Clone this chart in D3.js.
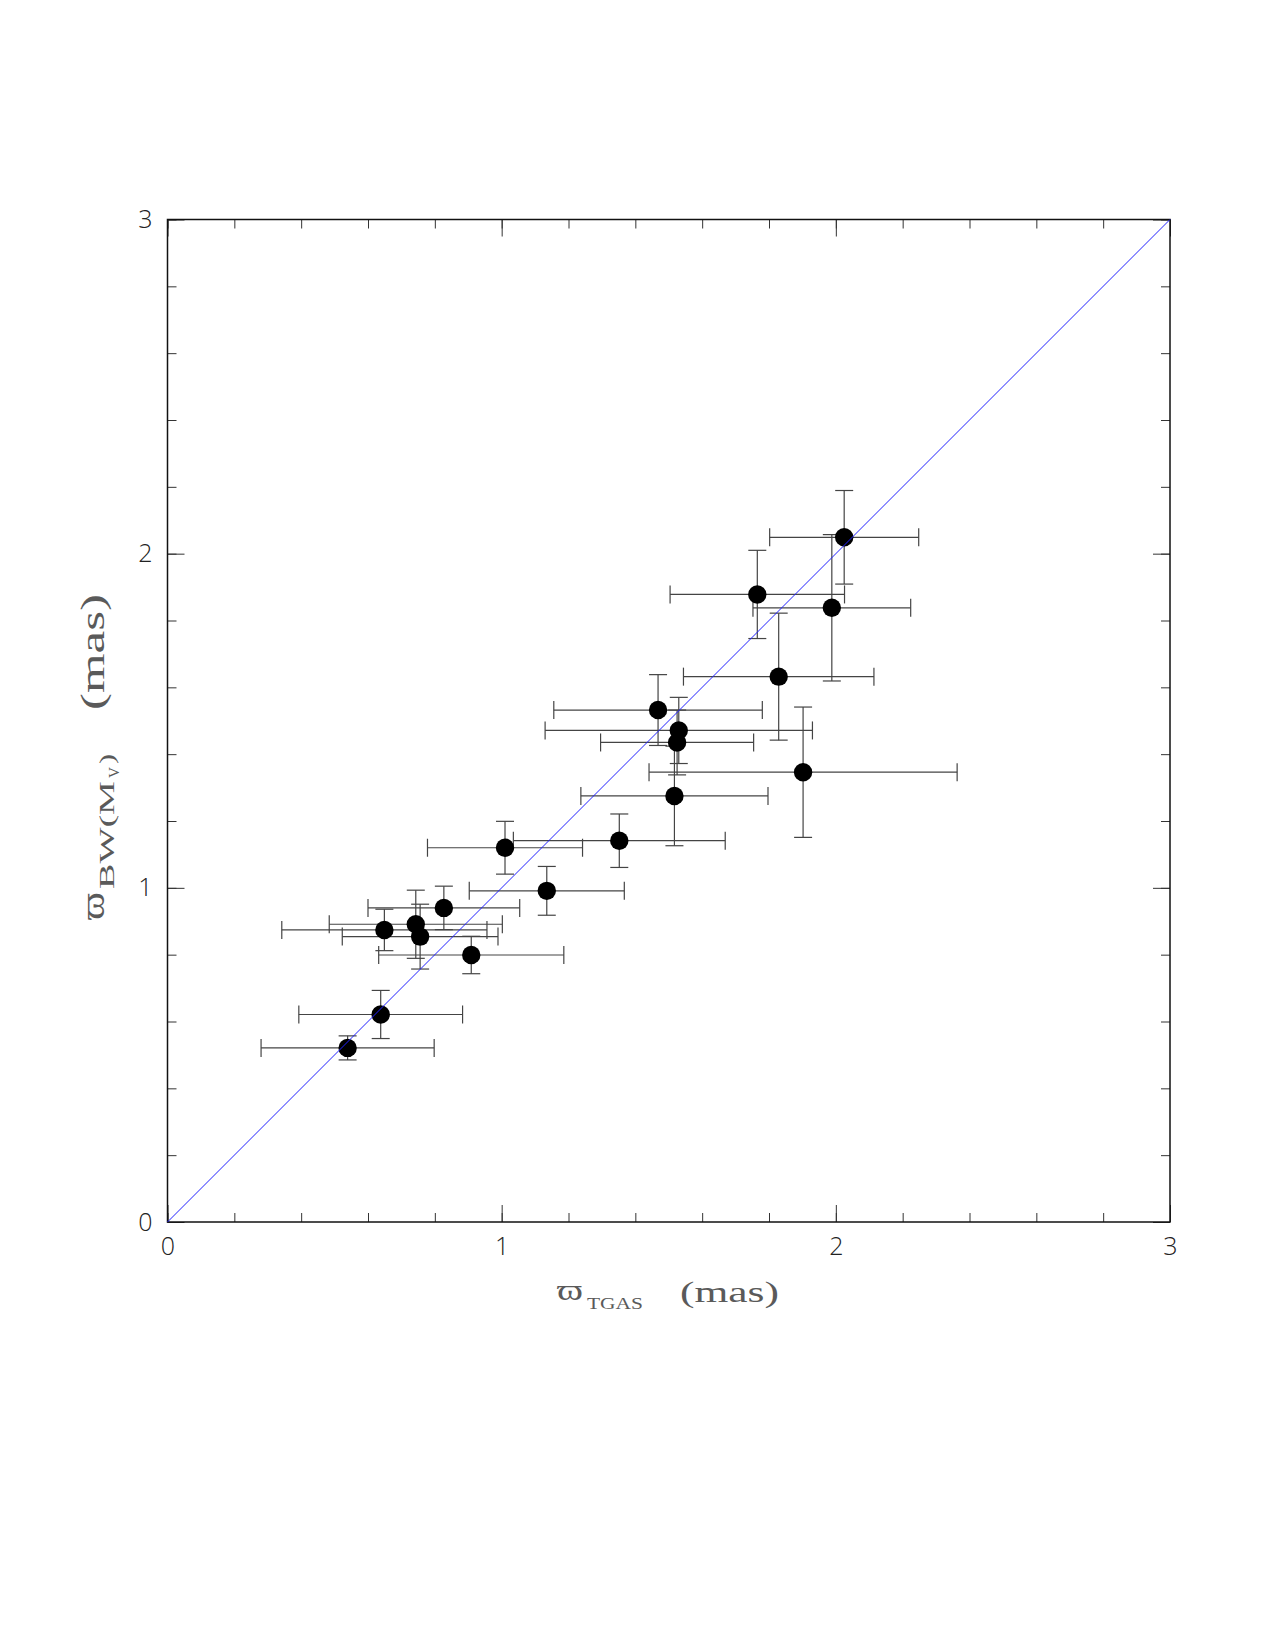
<!DOCTYPE html>
<html>
<head>
<meta charset="utf-8">
<script src="https://cdn.jsdelivr.net/npm/d3@7"></script>
<style>
  body { margin: 0; background: #fff; }
  .ticklab text { font-family: "Open Sans", "DejaVu Sans", sans-serif; font-weight: 300; font-size: 25px; fill: #222; }
  .lab { font-family: "Liberation Serif", "DejaVu Serif", serif; fill: #5a5a5a; }
</style>
</head>
<body>
<svg id="chart" width="1275" height="1650"></svg>
<script>
// parallaxes (mas)
const plxTGAS    = [0.539, 0.638, 0.649, 0.743, 0.756, 0.827, 0.909, 1.010, 1.135, 1.352,
                    1.468, 1.530, 1.525, 1.517, 1.765, 1.829, 1.902, 1.988, 2.025];
const plxTGASErr = [0.259, 0.245, 0.307, 0.259, 0.233, 0.227, 0.277, 0.232, 0.232, 0.317,
                    0.312, 0.400, 0.229, 0.280, 0.261, 0.285, 0.461, 0.236, 0.223];
const plxBW      = [0.521, 0.621, 0.874, 0.891, 0.854, 0.940, 0.799, 1.120, 0.991, 1.141,
                    1.532, 1.471, 1.435, 1.275, 1.878, 1.632, 1.346, 1.838, 2.049];
const plxBWErr   = [0.036, 0.072, 0.062, 0.102, 0.097, 0.065, 0.056, 0.079, 0.073, 0.080,
                    0.106, 0.099, 0.097, 0.149, 0.132, 0.190, 0.195, 0.219, 0.140];
const majorTicks = [0, 1, 2, 3];
const minorTicks = d3.range(0, 3.001, 0.2);
const oneToOne = [[0, 0], [3, 3]];

const svg = d3.select("#chart");
svg.append("rect").attr("width", 1275).attr("height", 1650).attr("fill", "#fff");

const x = d3.scaleLinear().domain([0, 3]).range([167.5, 1170]);
const y = d3.scaleLinear().domain([0, 3]).range([1222, 219.5]);

const pts = plxTGAS.map((v, i) => ({x: v, xe: plxTGASErr[i], y: plxBW[i], ye: plxBWErr[i]}));

// ticks, all pointing inward
function ticks(axisFn, scale, tr, vals, len, labels) {
  const a = axisFn(scale).tickValues(vals).tickSize(-len).tickPadding(labels ? 15 : 0);
  a.tickFormat(labels ? d3.format("d") : "");
  const g = svg.append("g").attr("class", "ticklab").attr("transform", tr).call(a);
  g.select(".domain").remove();
  g.selectAll("line").attr("stroke", "#333").attr("stroke-width", 1);
  return g;
}
ticks(d3.axisBottom, x, "translate(0,1222)", minorTicks, 9, false);
ticks(d3.axisTop, x, "translate(0,219.5)", minorTicks, 9, false);
ticks(d3.axisLeft, y, "translate(167.5,0)", minorTicks, 9, false);
ticks(d3.axisRight, y, "translate(1170,0)", minorTicks, 9, false);
ticks(d3.axisBottom, x, "translate(0,1222)", majorTicks, 17, true);
ticks(d3.axisTop, x, "translate(0,219.5)", majorTicks, 17, false);
ticks(d3.axisLeft, y, "translate(167.5,0)", majorTicks, 17, true);
ticks(d3.axisRight, y, "translate(1170,0)", majorTicks, 17, false);

svg.append("rect")
  .attr("x", x(0)).attr("y", y(3))
  .attr("width", x(3) - x(0)).attr("height", y(0) - y(3))
  .attr("fill", "none").attr("stroke", "#111").attr("stroke-width", 1.5);

// error bars
const eb = svg.append("g").attr("stroke", "#444").attr("stroke-width", 1.2).attr("fill", "none");
const cap = 9;
pts.forEach(d => {
  eb.append("line").attr("x1", x(d.x - d.xe)).attr("x2", x(d.x + d.xe)).attr("y1", y(d.y)).attr("y2", y(d.y));
  eb.append("line").attr("x1", x(d.x - d.xe)).attr("x2", x(d.x - d.xe)).attr("y1", y(d.y) - cap).attr("y2", y(d.y) + cap);
  eb.append("line").attr("x1", x(d.x + d.xe)).attr("x2", x(d.x + d.xe)).attr("y1", y(d.y) - cap).attr("y2", y(d.y) + cap);
  eb.append("line").attr("x1", x(d.x)).attr("x2", x(d.x)).attr("y1", y(d.y - d.ye)).attr("y2", y(d.y + d.ye));
  eb.append("line").attr("x1", x(d.x) - cap).attr("x2", x(d.x) + cap).attr("y1", y(d.y - d.ye)).attr("y2", y(d.y - d.ye));
  eb.append("line").attr("x1", x(d.x) - cap).attr("x2", x(d.x) + cap).attr("y1", y(d.y + d.ye)).attr("y2", y(d.y + d.ye));
});

svg.append("g").selectAll("circle").data(pts).join("circle")
  .attr("cx", d => x(d.x)).attr("cy", d => y(d.y)).attr("r", 9.2).attr("fill", "#000");

svg.append("path")
  .attr("d", d3.line().x(d => x(d[0])).y(d => y(d[1]))(oneToOne))
  .attr("stroke", "#2020ff").attr("stroke-width", 1).attr("fill", "none");

// axis titles
function lab(g, tx, ty, size, len, str) {
  return g.append("text").attr("class", "lab").attr("x", tx).attr("y", ty).attr("font-size", size)
    .attr("textLength", len).attr("lengthAdjust", "spacingAndGlyphs").text(str);
}
const xl = svg.append("g");
lab(xl, 557, 1300, 30, 26, "\u03D6");
lab(xl, 587, 1309, 17, 56, "TGAS");
lab(xl, 680, 1302, 30, 99, "(mas)");

const yl = svg.append("g").attr("transform", "translate(104,0) rotate(-90)");
lab(yl, -920, 0, 34, 28, "\u03D6");
lab(yl, -889, 10, 20, 108, "BW(M");
lab(yl, -778, 15, 14, 11, "V");
lab(yl, -764, 10, 20, 10, ")");
lab(yl, -710, 0, 34, 116, "(mas)");
</script>
</body>
</html>
